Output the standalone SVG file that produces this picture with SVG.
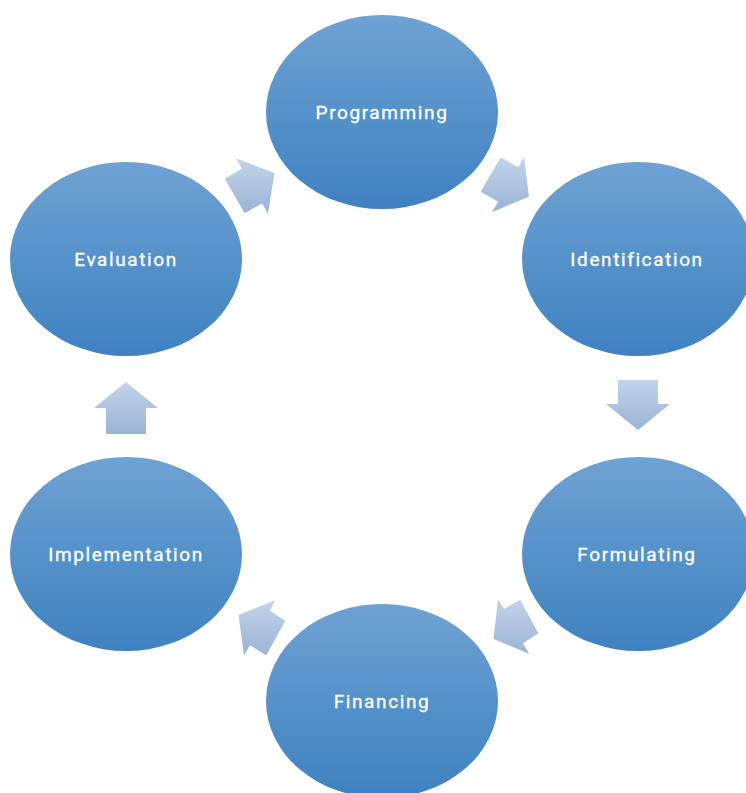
<svg xmlns="http://www.w3.org/2000/svg" width="746" height="793" viewBox="0 0 746 793">
<defs>
<linearGradient id="gNode" x1="0" y1="0" x2="0" y2="1">
<stop offset="0" stop-color="#70a2d3"/>
<stop offset="0.5" stop-color="#5592ca"/>
<stop offset="1" stop-color="#3f81c0"/>
</linearGradient>
<linearGradient id="gArrow" x1="0" y1="0" x2="0" y2="1">
<stop offset="0" stop-color="#c3d4ea"/>
<stop offset="1" stop-color="#9bb3d6"/>
</linearGradient>
<style>
.node{fill:url(#gNode);}
.lbl{fill:#ffffff;font-family:Roboto,"Liberation Sans",sans-serif;font-weight:400;font-size:19px;letter-spacing:1.6px;text-anchor:middle;stroke:#ffffff;stroke-width:0.3px;}
.arr{fill:url(#gArrow);}
</style>
</defs>
<rect width="746" height="793" fill="#ffffff"/>
<g id="connectors">
<polygon class="arr" points="658,380 658,404 670,404 638,430 606,404 618,404 618,380"/>
<polygon class="arr" points="106,434 106,408 94,408 126,382 158,408 146,408 146,434"/>
<polygon class="arr" points="224.7,178.7 242,168.7 236,158.3 274.5,173 268,213.7 262,203.3 244.7,213.3"/>
<polygon class="arr" points="500.7,157.2 518,167.2 524,156.8 529,196.5 492,212.2 498,201.8 480.7,191.8"/>
<polygon class="arr" points="538.3,633.3 523,643.3 529,653.7 493.5,639 498,599.3 504,608.7 520.3,599.7"/>
<polygon class="arr" points="266.3,655.3 250,645.3 244,655.7 238.5,615 275,600.3 270,610.7 285.3,620.7"/>
</g>
<g id="programming"><ellipse class="node" cx="382" cy="112" rx="116" ry="97"/><text class="lbl" x="382" y="118.5">Programming</text></g>
<g id="identification"><ellipse class="node" cx="638" cy="259" rx="116" ry="97"/><text class="lbl" x="637" y="265.5">Identification</text></g>
<g id="formulating"><ellipse class="node" cx="638" cy="554" rx="116" ry="97"/><text class="lbl" x="637" y="560.5">Formulating</text></g>
<g id="financing"><ellipse class="node" cx="382" cy="701" rx="116" ry="97"/><text class="lbl" x="382" y="707.5">Financing</text></g>
<g id="implementation"><ellipse class="node" cx="126" cy="554" rx="116" ry="97"/><text class="lbl" x="126" y="560.5">Implementation</text></g>
<g id="evaluation"><ellipse class="node" cx="126" cy="259" rx="116" ry="97"/><text class="lbl" x="126" y="265.5">Evaluation</text></g>
</svg>
